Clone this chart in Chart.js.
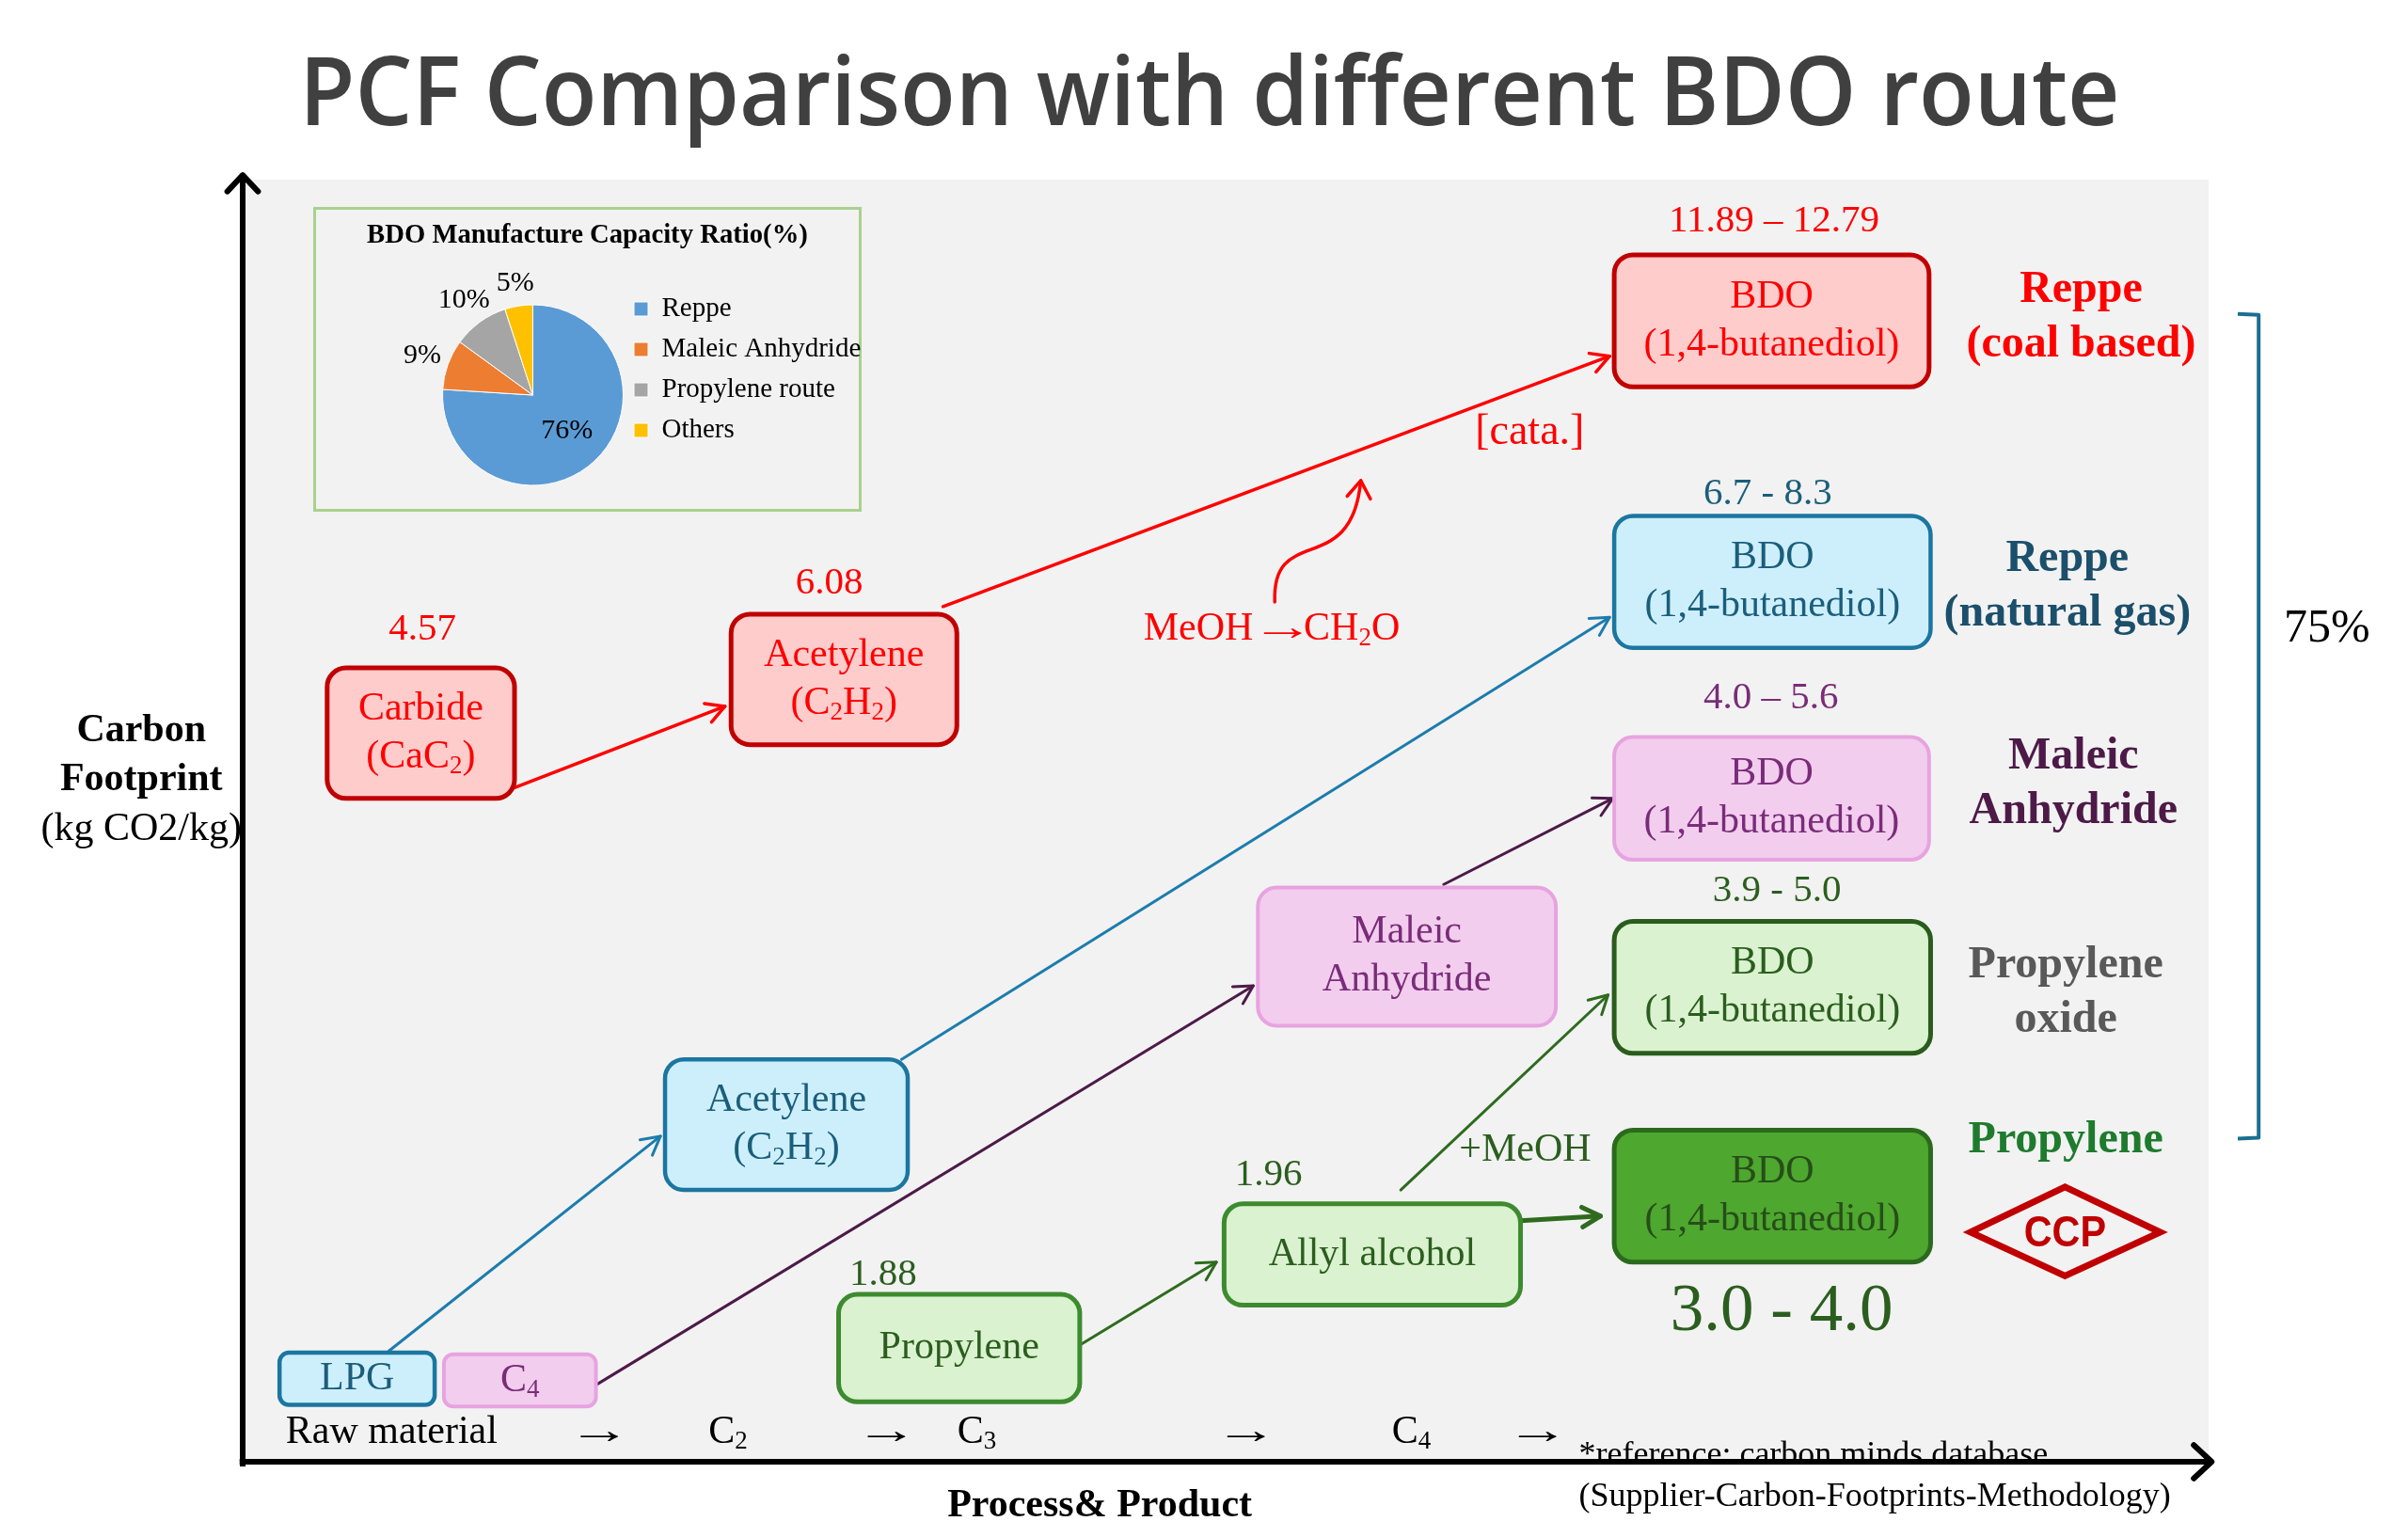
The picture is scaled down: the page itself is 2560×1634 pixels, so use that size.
<!DOCTYPE html>
<html>
<head>
<meta charset="utf-8">
<title>PCF Comparison with different BDO route</title>
<script src="https://cdn.jsdelivr.net/npm/chart.js@4.4.1/dist/chart.umd.min.js"></script>
<style>
  html, body { margin: 0; padding: 0; background: #fff; }
  #wrap { position: relative; width: 2560px; height: 1634px; overflow: hidden; }
  #main { position: absolute; left: 0; top: 0; }
  #inset { position: absolute; left: 333px; top: 220px; width: 577px; height: 318px; border: 3px solid #a9d18e; background: #f2f2f2; }
  #pie { position: absolute; left: 333px; top: 220px; }
</style>
</head>
<body>
<div id="wrap">
  <canvas id="main" width="2560" height="1634"></canvas>
  <div id="inset"></div>
  <canvas id="pie" width="583" height="324"></canvas>
</div>
<script>
// ---- Data ----
const chartTitle = 'PCF Comparison with different BDO route';

// box texts ("_n" marks a subscript digit)
const nodeLabels = [
    ['Carbide', '(CaC_2)'],
    ['Acetylene', '(C_2H_2)'],
    ['BDO', '(1,4-butanediol)'],
    ['BDO', '(1,4-butanediol)'],
    ['BDO', '(1,4-butanediol)'],
    ['BDO', '(1,4-butanediol)'],
    ['BDO', '(1,4-butanediol)'],
    ['Maleic', 'Anhydride'],
    ['Acetylene', '(C_2H_2)'],
    ['Allyl alcohol'],
    ['Propylene'],
    ['LPG'],
    ['C_4']
];
// carbon footprint, kg CO2/kg
const nodeValues = ['4.57', '6.08', '11.89 – 12.79', '6.7 - 8.3', '4.0 – 5.6', '3.9 - 5.0', '3.0 - 4.0', '', '', '1.96', '1.88', '', ''];

const routeNames = [['Reppe', '(coal based)'], ['Reppe', '(natural gas)'], ['Maleic', 'Anhydride'], ['Propylene', 'oxide'], ['Propylene']];
const stageLabels = ['Raw material', '→', 'C_2', '→', 'C_3', '→', 'C_4', '→'];
const sideNotes = ['[cata.]', 'MeOH →CH_2O', '+MeOH'];
const shareLabel = '75%';

const yTitle = ['Carbon', 'Footprint', '(kg CO2/kg)'];
const xTitle = 'Process& Product';
const refNotes = ['*reference: carbon minds database', '(Supplier-Carbon-Footprints-Methodology)'];

const pieTitle = 'BDO Manufacture Capacity Ratio(%)';
const pieLabels = ['Reppe', 'Maleic Anhydride', 'Propylene route', 'Others'];
const pieValues = [76, 9, 10, 5];

// ---- Layout (diagram units, drawn through the chart scales) ----
const nodeX = [274, 549.5, 1153.5, 1154, 1153.5, 1154, 1154, 916, 512, 893.5, 624.5, 232.5, 338.5];
const nodeY = [477.5, 442.5, 209, 379, 520, 643, 779, 623, 732.5, 817, 878, 898, 899];
const nodeW = [122, 147, 205, 206, 205, 206, 206, 194, 158, 193, 157, 101, 99];
const nodeH = [85, 85, 86, 86, 80, 86, 86, 90, 85, 66, 70, 34, 34];
const nodeStyle = ['red', 'red', 'red', 'blue', 'pink', 'green', 'dark', 'pink', 'blue', 'lime', 'lime', 'blue', 'pink'];
const valuePos = [[275, 410], [540, 380], [1155, 144], [1151, 322], [1153, 455], [1157, 580], [1160, 855], null, null, [826, 765], [575, 830], null, null];

const routePos = [[1355, 189], [1346, 364], [1350, 493], [1345, 629], [1345, 743]];
const routeColors = ['#ff0000', '#1b4f6b', '#4d1a48', '#595959', '#1e7b2e'];
const stageX = [255, 390, 474, 577, 636, 811, 919, 1001];
const notePos = [[996, 282], [828, 410], [993, 749]];
const noteColors = ['#ff0000', '#ff0000', '#2b5e1e'];

const links = [
    { from: [335, 513], to: [472, 460], color: '#ff0000', w: 3.5 },
    { from: [614, 395], to: [1048, 232], color: '#ff0000', w: 3.5 },
    { from: [253, 880], to: [430, 740], color: '#1c7cac', w: 3 },
    { from: [587, 690], to: [1048, 402], color: '#1c7cac', w: 3 },
    { from: [388, 902], to: [816, 642], color: '#4d1a48', w: 3 },
    { from: [940, 576], to: [1050, 520], color: '#4d1a48', w: 3 },
    { from: [703, 876], to: [792, 822], color: '#2e6b1e', w: 3 },
    { from: [912, 775], to: [1047, 648], color: '#2e6b1e', w: 3 },
    { from: [990, 795], to: [1042, 792], color: '#2e6b1e', w: 5 }
];

const styles = {
    red:   { fill: '#ffcccc', stroke: '#c00000', text: '#ff0000', lw: 5 },
    blue:  { fill: '#cdeffc', stroke: '#1b76a0', text: '#1b5e7b', lw: 4.5 },
    pink:  { fill: '#f2cdee', stroke: '#e7a3e0', text: '#7a2c78', lw: 4 },
    green: { fill: '#daf2d0', stroke: '#2a5c1d', text: '#2b5e1e', lw: 5 },
    dark:  { fill: '#4ea72e', stroke: '#2b6a1e', text: '#274e1a', lw: 5 },
    lime:  { fill: '#daf2d0', stroke: '#3d8b2f', text: '#2b5e1e', lw: 5 }
};
const valueColors = ['#ff0000', '#ff0000', '#ff0000', '#1b5e7b', '#7a2c78', '#2b5e1e', '#2b5e1e', '', '', '#2b5e1e', '#2b5e1e', '', ''];

const SERIF = '"Liberation Serif", "Times New Roman", serif';
const ARROW_STRETCH = 1.6;

// split "C_2H_2" into normal / subscript runs, arrows on their own
const richParts = (str) => {
    const parts = [];
    let buf = '';
    const flush = () => { if (buf) parts.push({ t: buf, sub: false }); buf = ''; };
    for (let i = 0; i < str.length; i++) {
        if (str[i] === '_' && i + 1 < str.length) {
            flush();
            parts.push({ t: str[i + 1], sub: true });
            i++;
        } else if (str[i] === '→') {
            flush();
            parts.push({ t: '→', sub: false, arrow: true });
        } else {
            buf += str[i];
        }
    }
    flush();
    return parts;
};

const drawRich = (ctx, str, x, y, size, weight, color, align = 'center') => {
    const parts = richParts(str);
    const mainFont = `${weight} ${size}px ${SERIF}`;
    const subFont = `${weight} ${Math.round(size * 0.65)}px ${SERIF}`;
    const solo = parts.length === 1;
    let total = 0;
    parts.forEach(p => {
        ctx.font = p.sub ? subFont : mainFont;
        p.w = ctx.measureText(p.t).width * (p.arrow ? ARROW_STRETCH : 1);
        // stretched arrows inside a phrase: trim the side bearings
        if (p.arrow && !solo) p.w -= 0.57 * size;
        total += p.w;
    });
    let cx = align === 'left' ? x : x - total / 2;
    ctx.fillStyle = color;
    ctx.textAlign = 'left';
    ctx.textBaseline = 'middle';
    parts.forEach(p => {
        ctx.font = p.sub ? subFont : mainFont;
        if (p.arrow) {
            ctx.save();
            ctx.translate(solo ? cx : cx - 0.31 * size, y);
            ctx.scale(ARROW_STRETCH, 1);
            ctx.fillText(p.t, 0, 0);
            ctx.restore();
        } else {
            ctx.fillText(p.t, cx, p.sub ? y + size * 0.24 : y);
        }
        cx += p.w;
    });
};

const arrowHead = (ctx, x1, y1, x2, y2, len, spread = 0.5) => {
    const a = Math.atan2(y2 - y1, x2 - x1);
    ctx.beginPath();
    ctx.moveTo(x2 - len * Math.cos(a - spread), y2 - len * Math.sin(a - spread));
    ctx.lineTo(x2, y2);
    ctx.lineTo(x2 - len * Math.cos(a + spread), y2 - len * Math.sin(a + spread));
    ctx.stroke();
};

const diagramPlugin = {
    id: 'diagram',
    beforeDraw(chart) {
        const { ctx, chartArea: a } = chart;
        ctx.save();
        ctx.fillStyle = '#ffffff';
        ctx.fillRect(0, 0, chart.width, chart.height);
        ctx.fillStyle = '#f2f2f2';
        ctx.fillRect(a.left, a.top, a.right - a.left, a.bottom - a.top);
        ctx.restore();
    },
    afterDraw(chart) {
        const ctx = chart.ctx;
        const xs = chart.scales.x, ys = chart.scales.y;
        const X = v => xs.getPixelForValue(v);
        const Y = v => ys.getPixelForValue(v);
        const kx = X(1) - X(0), ky = Y(1) - Y(0);
        ctx.save();
        ctx.lineCap = 'round';
        ctx.lineJoin = 'round';

        // Title
        ctx.font = `600 102px "Open Sans", "Noto Sans", sans-serif`;
        const tw = ctx.measureText(chartTitle).width;
        ctx.save();
        ctx.translate(X(787.5), Y(81.5));
        ctx.scale(1935 / tw, 1);
        ctx.fillStyle = '#404040';
        ctx.textAlign = 'center';
        ctx.textBaseline = 'alphabetic';
        ctx.fillText(chartTitle, 0, 0);
        ctx.restore();

        // Links
        links.forEach(l => {
            const x1 = X(l.from[0]), y1 = Y(l.from[1]), x2 = X(l.to[0]), y2 = Y(l.to[1]);
            ctx.strokeStyle = l.color;
            ctx.lineWidth = l.w;
            ctx.beginPath();
            ctx.moveTo(x1, y1);
            ctx.lineTo(x2, y2);
            ctx.stroke();
            arrowHead(ctx, x1, y1, x2, y2, 22);
        });

        // MeOH curved arrow
        ctx.strokeStyle = '#ff0000';
        ctx.lineWidth = 3.5;
        ctx.beginPath();
        ctx.moveTo(X(830), Y(392));
        ctx.bezierCurveTo(X(828), Y(340), X(880), Y(378), X(886), Y(313));
        ctx.stroke();
        arrowHead(ctx, X(884), Y(330), X(886), Y(313), 22, 0.6);

        // Boxes from dataset points
        const meta = chart.getDatasetMeta(0);
        meta.data.forEach((pt, i) => {
            const st = styles[nodeStyle[i]];
            const w = nodeW[i] * kx, h = nodeH[i] * ky;
            const r = nodeH[i] < 50 ? 10 : 20;
            ctx.beginPath();
            ctx.roundRect(pt.x - w / 2, pt.y - h / 2, w, h, r);
            ctx.fillStyle = st.fill;
            ctx.fill();
            ctx.strokeStyle = st.stroke;
            ctx.lineWidth = st.lw;
            ctx.stroke();
            const lines = nodeLabels[i];
            const gap = 51;
            lines.forEach((ln, j) => {
                const yy = pt.y + (j - (lines.length - 1) / 2) * gap;
                drawRich(ctx, ln, pt.x, yy, 42, 'normal', st.text);
            });
            if (valuePos[i] && nodeValues[i]) {
                drawRich(ctx, nodeValues[i], X(valuePos[i][0]), Y(valuePos[i][1]), i === 6 ? 71 : 41, 'normal', valueColors[i]);
            }
        });

        // Route names
        routeNames.forEach((rn, i) => {
            rn.forEach((t, j) => drawRich(ctx, t, X(routePos[i][0]), Y(routePos[i][1] + j * 35.5), 48, 'bold', routeColors[i]));
        });

        // Side notes
        sideNotes.forEach((t, i) => drawRich(ctx, t, X(notePos[i][0]), Y(notePos[i][1]), i === 0 ? 46 : 42, 'normal', noteColors[i]));

        // Stage labels along the bottom
        stageLabels.forEach((t, i) => drawRich(ctx, t, X(stageX[i]), Y(933), 42, 'normal', '#000'));

        // Axis titles
        yTitle.forEach((t, i) => drawRich(ctx, t, X(92), Y(476 + i * 32), 42, i < 2 ? 'bold' : 'normal', '#000'));
        drawRich(ctx, xTitle, X(716), Y(981), 42, 'bold', '#000');
        refNotes.forEach((t, i) => drawRich(ctx, t, X(1028), Y(948 + i * 27), 36, 'normal', '#000', 'left'));

        // Axes
        ctx.strokeStyle = '#000';
        ctx.lineWidth = 6;
        ctx.lineCap = 'butt';
        ctx.beginPath();
        ctx.moveTo(X(158), Y(955));
        ctx.lineTo(X(158), Y(115));
        ctx.stroke();
        ctx.lineCap = 'round';
        arrowHead(ctx, X(158), Y(300), X(158), Y(114), 24, 0.75);
        ctx.lineCap = 'butt';
        ctx.beginPath();
        ctx.moveTo(X(156), Y(952));
        ctx.lineTo(X(1439), Y(952));
        ctx.stroke();
        ctx.lineCap = 'round';
        arrowHead(ctx, X(1000), Y(952), X(1440), Y(952), 26, 0.75);

        // Bracket + share
        ctx.strokeStyle = '#1b6f91';
        ctx.lineWidth = 4;
        ctx.lineCap = 'butt';
        ctx.beginPath();
        ctx.moveTo(X(1457), Y(204.5));
        ctx.lineTo(X(1470.6), Y(205));
        ctx.lineTo(X(1470.6), Y(741));
        ctx.lineTo(X(1457), Y(741.5));
        ctx.stroke();
        drawRich(ctx, shareLabel, X(1515), Y(410), 50, 'normal', '#000');

        // CCP mark
        ctx.strokeStyle = '#c00000';
        ctx.lineWidth = 7;
        ctx.lineJoin = 'miter';
        ctx.beginPath();
        ctx.moveTo(X(1283), Y(802.5));
        ctx.lineTo(X(1344.5), Y(773));
        ctx.lineTo(X(1406.5), Y(802.5));
        ctx.lineTo(X(1344.5), Y(831));
        ctx.closePath();
        ctx.stroke();
        ctx.save();
        ctx.translate(X(1344.5), Y(802.5));
        ctx.scale(0.9, 1);
        ctx.font = 'bold 46px "Liberation Sans", Arial, sans-serif';
        ctx.fillStyle = '#c00000';
        ctx.textAlign = 'center';
        ctx.textBaseline = 'middle';
        ctx.fillText('CCP', 0, 2);
        ctx.restore();

        ctx.restore();
    }
};

new Chart(document.getElementById('main'), {
    type: 'scatter',
    data: {
        datasets: [{
            data: nodeX.map((x, i) => ({ x, y: nodeY[i] })),
            pointRadius: 0,
            pointHoverRadius: 0
        }]
    },
    options: {
        responsive: false,
        animation: false,
        devicePixelRatio: 1,
        layout: { padding: { left: 258, right: 212, top: 191, bottom: 80 } },
        scales: {
            x: { type: 'linear', min: 158, max: 1438, display: false },
            y: { type: 'linear', min: 117, max: 952, reverse: true, display: false }
        },
        plugins: { legend: { display: false }, tooltip: { enabled: false } }
    },
    plugins: [diagramPlugin]
});

// ---- Inset pie ----
const pieLabelRadius = [0.55, 1.3, 1.3, 1.25];
const pieLabelPlugin = {
    id: 'pieLabels',
    afterLayout(chart) {
        // legend sits right of the pie, wider than the layout allows
        const lg = chart.legend;
        if (lg) {
            lg.left = 327;
            lg.right = chart.width;
            lg.width = chart.width - 327;
        }
    },
    afterDraw(chart) {
        const ctx = chart.ctx;
        ctx.save();
        ctx.font = `bold 28.7px ${SERIF}`;
        ctx.fillStyle = '#000';
        ctx.textAlign = 'center';
        ctx.textBaseline = 'middle';
        ctx.fillText(pieTitle, chart.width / 2, 31);
        ctx.restore();
    },
    afterDatasetsDraw(chart) {
        const ctx = chart.ctx;
        const meta = chart.getDatasetMeta(0);
        ctx.save();
        ctx.font = `30px ${SERIF}`;
        ctx.fillStyle = '#000';
        ctx.textAlign = 'center';
        ctx.textBaseline = 'middle';
        meta.data.forEach((arc, i) => {
            const mid = (arc.startAngle + arc.endAngle) / 2;
            const r = arc.outerRadius * pieLabelRadius[i];
            ctx.fillText(pieValues[i] + '%', arc.x + Math.cos(mid) * r, arc.y + Math.sin(mid) * r);
        });
        ctx.restore();
    }
};

new Chart(document.getElementById('pie'), {
    type: 'pie',
    data: {
        labels: pieLabels,
        datasets: [{
            data: pieValues,
            backgroundColor: ['#5b9bd5', '#ed7d31', '#a5a5a5', '#ffc000'],
            borderColor: '#ffffff',
            borderWidth: 1,
            radius: 96,
            clip: false
        }]
    },
    options: {
        responsive: false,
        animation: false,
        devicePixelRatio: 1,
        layout: { padding: { left: 175.5, right: 175.5, top: 80, bottom: 4 } },
        plugins: {
            title: { display: false },
            legend: {
                position: 'right',
                align: 'start',
                fullSize: false,
                labels: {
                    color: '#000',
                    boxWidth: 15,
                    boxHeight: 15,
                    padding: 14,
                    font: { family: SERIF, size: 29 }
                }
            },
            tooltip: { enabled: false }
        }
    },
    plugins: [pieLabelPlugin]
});
</script>
</body>
</html>
